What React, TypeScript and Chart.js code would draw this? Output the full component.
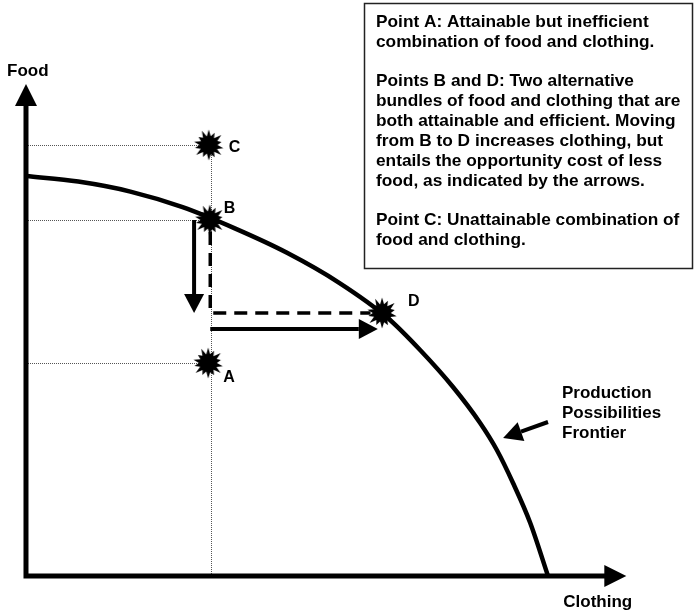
import React, { useEffect, useRef } from "react";
import { Chart, registerables } from "chart.js";

Chart.register(...registerables);

// Production possibilities frontier (Clothing vs Food)
const ppfClothing = [0, 10, 20, 30, 40, 50, 60, 69.3, 75.5, 81.8, 87, 90.2, 93.3, 96.6, 100];
const ppfFood = [100, 98.6, 96.1, 92.2, 86.9, 80.8, 73.3, 64.5, 56.5, 47.25, 38.25, 31.5, 23.25, 13.25, 0];

// Marked points
const pointNames = ["A", "B", "C", "D"];
const pointClothing = [34.9, 35.2, 35.0, 68.2];
const pointFood = [53.25, 89, 107.75, 65.75];

// Guide (dotted) lines
const guideClothing = 35.4;
const guideFoodLevels = [107.75, 89, 53.25];

// Opportunity-cost path B -> D (dashed)
const pathClothing = [35.3, 35.3, 66];
const pathFood = [86, 65.75, 65.75];

// Arrows: [fromClothing, fromFood, toClothing, toFood]
const arrowDown = [32.2, 89, 32.2, 65.75];
const arrowRight = [35.3, 61.75, 67.4, 61.75];
const arrowPointer = [100, 38.5, 91.4, 34.5];

// Axis extents
const axisClothingEnd = 115;
const axisFoodEnd = 123;
const xMin = -4.98;
const xMax = 128.16;
const yMin = -9;
const yMax = 144;

const axisTitleX = "Clothing";
const axisTitleY = "Food";
const frontierLabel = ["Production", "Possibilities", "Frontier"];
const boxParagraphs = [
  ["Point A: Attainable but inefficient", "combination of food and clothing."],
  [
    "Points B and D: Two alternative",
    "bundles of food and clothing that are",
    "both attainable and efficient. Moving",
    "from B to D increases clothing, but",
    "entails the opportunity cost of less",
    "food, as indicated by the arrows.",
  ],
  ["Point C: Unattainable combination of", "food and clothing."],
];

const FONT = '"Liberation Sans", Arial, Helvetica, sans-serif';

function makeStar(): HTMLCanvasElement {
  const c = document.createElement("canvas");
  c.width = 34;
  c.height = 34;
  const g = c.getContext("2d")!;
  const spikes = 14;
  const outer = [15.5, 13.5, 16, 13, 15, 16, 13.5, 15.5, 13.2, 16, 14, 15, 13, 15.8];
  const inner = [9, 8.5, 9.5, 8.8, 9.2, 8.6, 9.4, 8.7, 9.1, 8.9, 9.3, 8.6, 9.2, 8.8];
  g.beginPath();
  for (let i = 0; i < spikes * 2; i++) {
    const a = (Math.PI * i) / spikes - Math.PI / 2;
    const r = i % 2 === 0 ? outer[i / 2] : inner[(i - 1) / 2];
    const x = 17 + r * Math.cos(a);
    const y = 17 + r * Math.sin(a);
    if (i === 0) g.moveTo(x, y);
    else g.lineTo(x, y);
  }
  g.closePath();
  g.fillStyle = "#000";
  g.fill();
  return c;
}

function drawArrow(ctx: CanvasRenderingContext2D, x1: number, y1: number, x2: number, y2: number, lw: number, len: number, half: number) {
  const ang = Math.atan2(y2 - y1, x2 - x1);
  const bx = x2 - len * Math.cos(ang);
  const by = y2 - len * Math.sin(ang);
  ctx.save();
  ctx.strokeStyle = "#000";
  ctx.fillStyle = "#000";
  ctx.lineWidth = lw;
  ctx.lineCap = "butt";
  ctx.beginPath();
  ctx.moveTo(x1, y1);
  ctx.lineTo(bx, by);
  ctx.stroke();
  ctx.beginPath();
  ctx.moveTo(x2, y2);
  ctx.lineTo(bx + half * Math.sin(ang), by - half * Math.cos(ang));
  ctx.lineTo(bx - half * Math.sin(ang), by + half * Math.cos(ang));
  ctx.closePath();
  ctx.fill();
  ctx.restore();
}

const diagramPlugin = {
  id: "diagram",
  beforeDatasetsDraw(chart: any) {
    const ctx: CanvasRenderingContext2D = chart.ctx;
    const X = (v: number) => chart.scales.x.getPixelForValue(v);
    const Y = (v: number) => chart.scales.y.getPixelForValue(v);
    ctx.save();
    ctx.strokeStyle = "#555";
    ctx.lineWidth = 1;
    ctx.setLineDash([1, 1]);
    const gx = Math.round(X(guideClothing)) + 0.5;
    guideFoodLevels.forEach((f) => {
      const y = Math.round(Y(f)) + 0.5;
      ctx.beginPath();
      ctx.moveTo(X(0), y);
      ctx.lineTo(gx, y);
      ctx.stroke();
    });
    ctx.beginPath();
    ctx.moveTo(gx, Y(guideFoodLevels[0]));
    ctx.lineTo(gx, Y(0));
    ctx.stroke();
    ctx.restore();
  },
  afterDatasetsDraw(chart: any) {
    const ctx: CanvasRenderingContext2D = chart.ctx;
    const X = (v: number) => chart.scales.x.getPixelForValue(v);
    const Y = (v: number) => chart.scales.y.getPixelForValue(v);

    // dashed path
    ctx.save();
    ctx.strokeStyle = "#000";
    ctx.lineWidth = 3.5;
    ctx.setLineDash([13, 8]);
    ctx.beginPath();
    pathClothing.forEach((c, i) => {
      if (i === 0) ctx.moveTo(X(c), Y(pathFood[i]));
      else ctx.lineTo(X(c), Y(pathFood[i]));
    });
    ctx.stroke();
    ctx.restore();

    // arrows
    [arrowDown, arrowRight, arrowPointer].forEach((a) => {
      drawArrow(ctx, X(a[0]), Y(a[1]), X(a[2]), Y(a[3]), 4, 19, 10);
    });

    // axes
    const ox = X(0);
    const oy = Y(0);
    ctx.save();
    ctx.strokeStyle = "#000";
    ctx.lineWidth = 5;
    ctx.lineCap = "square";
    ctx.beginPath();
    ctx.moveTo(ox, Y(axisFoodEnd) + 20);
    ctx.lineTo(ox, oy);
    ctx.lineTo(X(axisClothingEnd) - 20, oy);
    ctx.stroke();
    ctx.restore();
    drawArrow(ctx, ox, oy, ox, Y(axisFoodEnd), 0.01, 22, 11);
    drawArrow(ctx, ox, oy, X(axisClothingEnd), oy, 0.01, 22, 11);

    // axis titles
    ctx.save();
    ctx.fillStyle = "#000";
    ctx.textBaseline = "alphabetic";
    ctx.font = `bold 17px ${FONT}`;
    ctx.textAlign = "left";
    ctx.fillText(axisTitleY, 7, 76);
    ctx.fillText(axisTitleX, X(axisClothingEnd) - 63, oy + 31);

    // point labels
    ctx.font = `bold 16px ${FONT}`;
    const offsets: Record<string, [number, number]> = {
      A: [15, 19],
      B: [14, -7],
      C: [20, 7],
      D: [26, -7],
    };
    pointNames.forEach((n, i) => {
      const o = offsets[n];
      ctx.fillText(n, X(pointClothing[i]) + o[0], Y(pointFood[i]) + o[1]);
    });

    // frontier label
    ctx.font = `bold 17px ${FONT}`;
    frontierLabel.forEach((t, i) => {
      ctx.fillText(t, X(arrowPointer[0]) + 14, Y(arrowPointer[1]) - 24 + i * 20);
    });

    // text box
    ctx.strokeStyle = "#222";
    ctx.lineWidth = 1.5;
    ctx.strokeRect(364.5, 3.5, 328, 265);
    ctx.font = `bold 17.3px ${FONT}`;
    let y = 27;
    boxParagraphs.forEach((p) => {
      p.forEach((line) => {
        ctx.fillText(line, 376, y);
        y += 20;
      });
      y += 19;
    });
    ctx.restore();
  },
};

export default function App() {
  const ref = useRef<HTMLCanvasElement>(null);
  useEffect(() => {
    const star = makeStar();
    const chart = new Chart(ref.current!, {
      type: "scatter",
      data: {
        datasets: [
          {
            label: "Points",
            data: pointClothing.map((c, i) => ({ x: c, y: pointFood[i] })),
            pointStyle: star as any,
            pointRadius: 16,
            showLine: false,
            order: 0,
          },
          {
            label: "Production Possibilities Frontier",
            data: ppfClothing.map((c, i) => ({ x: c, y: ppfFood[i] })),
            showLine: true,
            borderColor: "#000",
            borderWidth: 4.5,
            pointRadius: 0,
            cubicInterpolationMode: "monotone",
            fill: false,
            order: 1,
          },
        ],
      },
      options: {
        responsive: false,
        animation: false,
        layout: { padding: 0, autoPadding: false },
        plugins: { legend: { display: false }, tooltip: { enabled: false } },
        scales: {
          x: { type: "linear", min: xMin, max: xMax, display: false },
          y: { type: "linear", min: yMin, max: yMax, display: false },
        },
      },
      plugins: [diagramPlugin],
    });
    return () => chart.destroy();
  }, []);
  return (
    <div style={{ position: "absolute", left: 0, top: 0, width: 695, height: 612, background: "#fff" }}>
      <canvas ref={ref} width={695} height={612} style={{ display: "block" }} />
    </div>
  );
}
